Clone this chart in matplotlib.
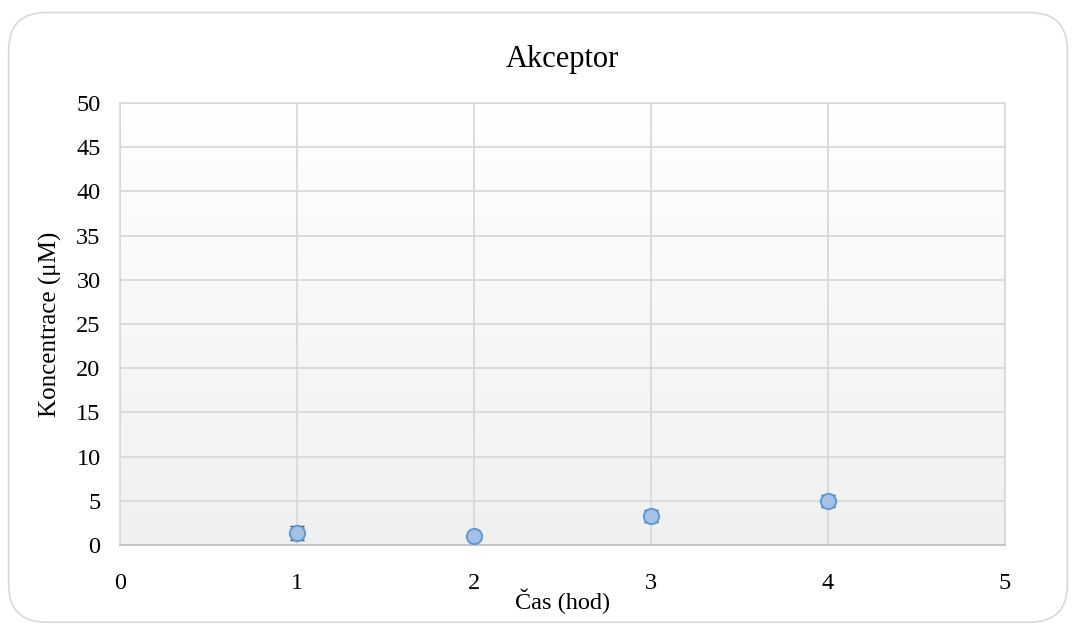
import numpy as np
import matplotlib.pyplot as plt
from matplotlib.colors import LinearSegmentedColormap
from matplotlib.patches import FancyBboxPatch

plt.rcParams['font.family'] = ['Liberation Serif', 'DejaVu Serif']

# Measured concentrations in the acceptor compartment
cas = [1, 2, 3, 4]
koncentrace = [1.4, 1.0, 3.3, 5.0]
chyba = [0.8, 0.2, 0.7, 0.7]

x_ticks = [0, 1, 2, 3, 4, 5]
y_ticks = list(range(0, 55, 5))

fig = plt.figure(figsize=(10.76, 6.26), dpi=100)
ax = fig.add_axes([0.1115, 0.1294, 0.8225, 0.7061])

# rounded chart border
border = FancyBboxPatch((0.008, 0.006), 0.984, 0.974,
                        boxstyle='round,pad=0,rounding_size=0.035',
                        transform=fig.transFigure, fill=False,
                        edgecolor='#d9d9d9', lw=1.2, mutation_aspect=1.72)
fig.patches.append(border)

# plot area gradient (white at top, light grey at bottom)
grad = np.linspace(1.0, 0.0, 256).reshape(-1, 1)
bg = LinearSegmentedColormap.from_list('bg', ['#f0f0f0', '#ffffff'])
ax.imshow(grad, cmap=bg, aspect='auto', extent=[0, 1, 0, 1],
          transform=ax.transAxes, zorder=0)

ax.errorbar(cas, koncentrace, yerr=chyba, fmt='none',
            ecolor='#404040', elinewidth=1.0, capsize=5, capthick=1.0,
            zorder=3)
ax.plot(cas, koncentrace, 'o', ms=11, mfc='#a4c2e8', mec='#5b9bd5',
        mew=1.4, zorder=4)

ax.set_xlim(0, 5)
ax.set_ylim(0, 50)
ax.set_xticks(x_ticks)
ax.set_yticks(y_ticks)
ax.grid(True, color='#d9d9d9', lw=1.3, zorder=1)
ax.set_axisbelow(True)
ax.tick_params(length=0, labelsize=17.5)
ax.tick_params(axis='y', pad=14)
ax.tick_params(axis='x', pad=20)
for s in ax.spines.values():
    s.set_color('#d9d9d9')
    s.set_linewidth(1.2)
ax.spines['bottom'].set_color('#bfbfbf')

ax.set_title('Akceptor', fontsize=22, pad=26)
ax.set_xlabel('Čas (hod)', fontsize=17.5, labelpad=-4)
ax.set_ylabel('Koncentrace (μM)', fontsize=18, labelpad=10)

plt.savefig('out.png', dpi=100)
